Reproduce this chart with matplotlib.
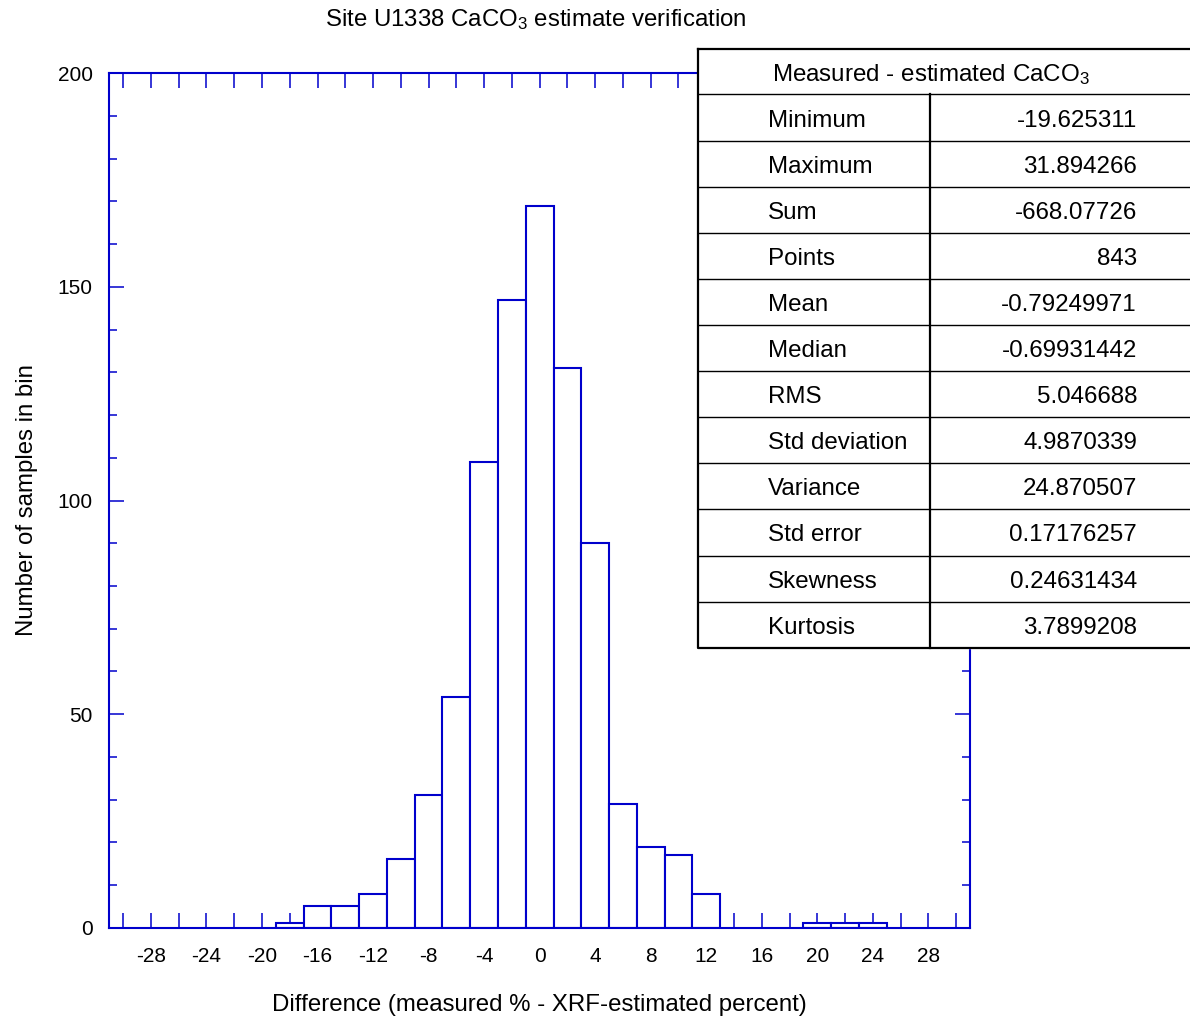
import numpy as np
import matplotlib
matplotlib.use('Agg')
import matplotlib.pyplot as plt
from matplotlib.lines import Line2D

plt.rcParams['font.family'] = ['Liberation Sans', 'DejaVu Sans']
plt.rcParams['mathtext.fontset'] = 'custom'
plt.rcParams['mathtext.rm'] = 'Liberation Sans'
plt.rcParams['mathtext.it'] = 'Liberation Sans'

# histogram bins (centres, width 2) and counts
bin_centers = [-18, -16, -14, -12, -10, -8, -6, -4, -2, 0, 2, 4, 6, 8, 10, 12, 20, 22, 24]
bin_counts = [1, 5, 5, 8, 16, 31, 54, 109, 147, 169, 131, 90, 29, 19, 17, 8, 1, 1, 1]
bin_width = 2

xtick_labels = [-28, -24, -20, -16, -12, -8, -4, 0, 4, 8, 12, 16, 20, 24, 28]

stat_names = ['Minimum', 'Maximum', 'Sum', 'Points', 'Mean', 'Median', 'RMS',
              'Std deviation', 'Variance', 'Std error', 'Skewness', 'Kurtosis']
stat_values = ['-19.625311', '31.894266', '-668.07726', '843', '-0.79249971',
               '-0.69931442', '5.046688', '4.9870339', '24.870507', '0.17176257',
               '0.24631434', '3.7899208']

blue = '#0000cc'
W, H = 1190, 1021
fig = plt.figure(figsize=(W/100, H/100), dpi=100)
ax = fig.add_axes([109.3/W, 1 - 927.7/H, (970 - 109.3)/W, (927.7 - 73.3)/H])

ax.bar(bin_centers, bin_counts, width=bin_width, color='white',
       edgecolor=blue, linewidth=1.5, zorder=2)

ax.set_xlim(-31, 31)
ax.set_ylim(0, 200)
for s in ax.spines.values():
    s.set_color(blue)
    s.set_linewidth(1.5)
    s.set_zorder(3)

ax.set_xticks(xtick_labels)
ax.set_xticklabels([str(v) for v in xtick_labels])
ax.set_xticks(np.arange(-30, 31, 2), minor=True)
ax.set_yticks([0, 50, 100, 150, 200])
ax.set_yticks(np.arange(0, 201, 10), minor=True)
ax.tick_params(axis='x', which='both', direction='in', top=True, bottom=True,
               length=11, width=1.1, color=blue, labelsize=15, pad=14)
ax.tick_params(axis='y', which='major', direction='in', left=True, right=True,
               length=11, width=1.1, color=blue, labelsize=15, pad=12)
ax.tick_params(axis='y', which='minor', direction='in', left=True, right=True,
               length=6, width=1.1, color=blue)

ax.set_xlabel('Difference (measured % - XRF-estimated percent)', fontsize=17.3, labelpad=20)
ax.set_ylabel('Number of samples in bin', fontsize=17.3, labelpad=14)
fig.text(536 / W, 1 - 20 / H, r'Site U1338 CaCO$_3$ estimate verification',
         ha='center', va='center', fontsize=17.3)

# statistics table drawn in pixel coordinates on an overlay
tab = fig.add_axes([0, 0, 1, 1])
tab.set_xlim(0, W)
tab.set_ylim(H, 0)
tab.axis('off')
x0, x1, xdiv = 697.5, 1200, 930
y0, yhead, row_h = 49, 94.5, 46.1
y1 = yhead + row_h * len(stat_names)
tab.fill_between([x0, x1], y0, y1, color='white', zorder=1)
tab.add_line(Line2D([x0, x1, x1, x0, x0], [y0, y0, y1, y1, y0], color='black', lw=1.6, zorder=3))
tab.add_line(Line2D([x0, x1], [yhead, yhead], color='black', lw=1.0, zorder=3))
tab.add_line(Line2D([xdiv, xdiv], [yhead, y1], color='black', lw=1.6, zorder=3))
tab.text(931, (y0 + yhead) / 2 + 3, r'Measured - estimated CaCO$_3$',
         ha='center', va='center', fontsize=17.4)
for i, (name, val) in enumerate(zip(stat_names, stat_values)):
    yt = yhead + row_h * i
    if i > 0:
        tab.add_line(Line2D([x0, x1], [yt, yt], color='black', lw=1.0, zorder=3))
    tab.text(768, yt + row_h / 2 + 3, name, ha='left', va='center', fontsize=17.4)
    tab.text(1137, yt + row_h / 2 + 3, val, ha='right', va='center', fontsize=17.4)

fig.savefig('out.png', dpi=100)
